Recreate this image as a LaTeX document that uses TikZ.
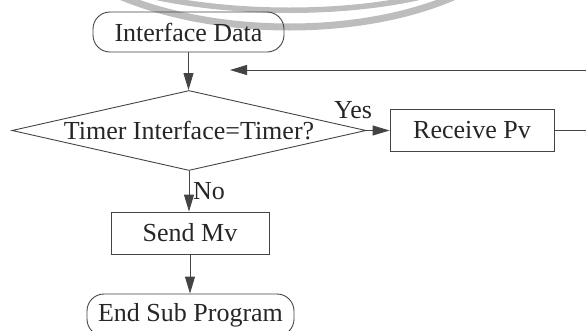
\documentclass[tikz,border=0pt]{standalone}
\usepackage{fontspec}
\setmainfont{Liberation Serif}
\usetikzlibrary{shapes.geometric,arrows.meta}

\definecolor{ink}{HTML}{262626}
\definecolor{stroke}{HTML}{444444}
\definecolor{seal}{HTML}{BDBDBD}

\begin{document}
\begin{tikzpicture}[x=1pt,y=-1pt,
  txt/.style={font=\fontsize{26}{26}\selectfont, text=ink},
  line/.style={draw=stroke, line width=0.9pt},
  flow/.style={line, -{Triangle[length=17pt,width=10pt]}},
  term/.style={line, txt, rounded corners=17pt, inner sep=0pt},
  proc/.style={line, txt, inner sep=0pt},
  decision/.style={line, txt, diamond, aspect=4.4, inner sep=0pt},
  lbl/.style={txt, inner sep=0pt}
]
\clip (0,0) rectangle (586,330);

% seal stamp in the background
\draw[seal, line width=7pt] (115,-6) .. controls (215,38) and (365,38) .. (460,-6);
\draw[seal, line width=5.5pt] (150,-4) .. controls (235,15) and (345,15) .. (425,-4);

% nodes
\node[term, minimum width=191pt, minimum height=40pt] (iface) at (188.5,32) {Interface Data};
\node[decision, minimum width=354pt, minimum height=80pt] (dec) at (189,130.5) {Timer Interface=Timer?};
\node[proc, minimum width=164pt, minimum height=42pt] (recv) at (472,130.5) {Receive Pv};
\node[proc, minimum width=158pt, minimum height=42pt] (send) at (190,233) {Send Mv};
\node[term, minimum width=207pt, minimum height=42pt] (finish) at (190.5,315) {End Sub Program};

\node[lbl] (yes) at (353,110) {Yes};
\node[lbl, anchor=west] (no) at (193,191) {No};

\coordinate (outR) at (590,130.5);
\coordinate (backR) at (590,70);
\coordinate (backL) at (230,70);

% connectors
\draw[flow] (iface.south) -- (iface.south |- dec.north);
\draw[flow] (dec.east) -- (recv.west);
\draw[line] (recv.east) -- (outR);
\draw[flow] (backR) -- (backL);
\draw[flow] (dec.south) -- (dec.south |- send.north);
\draw[flow] (send.south) -- (send.south |- finish.north);
\end{tikzpicture}
\end{document}
